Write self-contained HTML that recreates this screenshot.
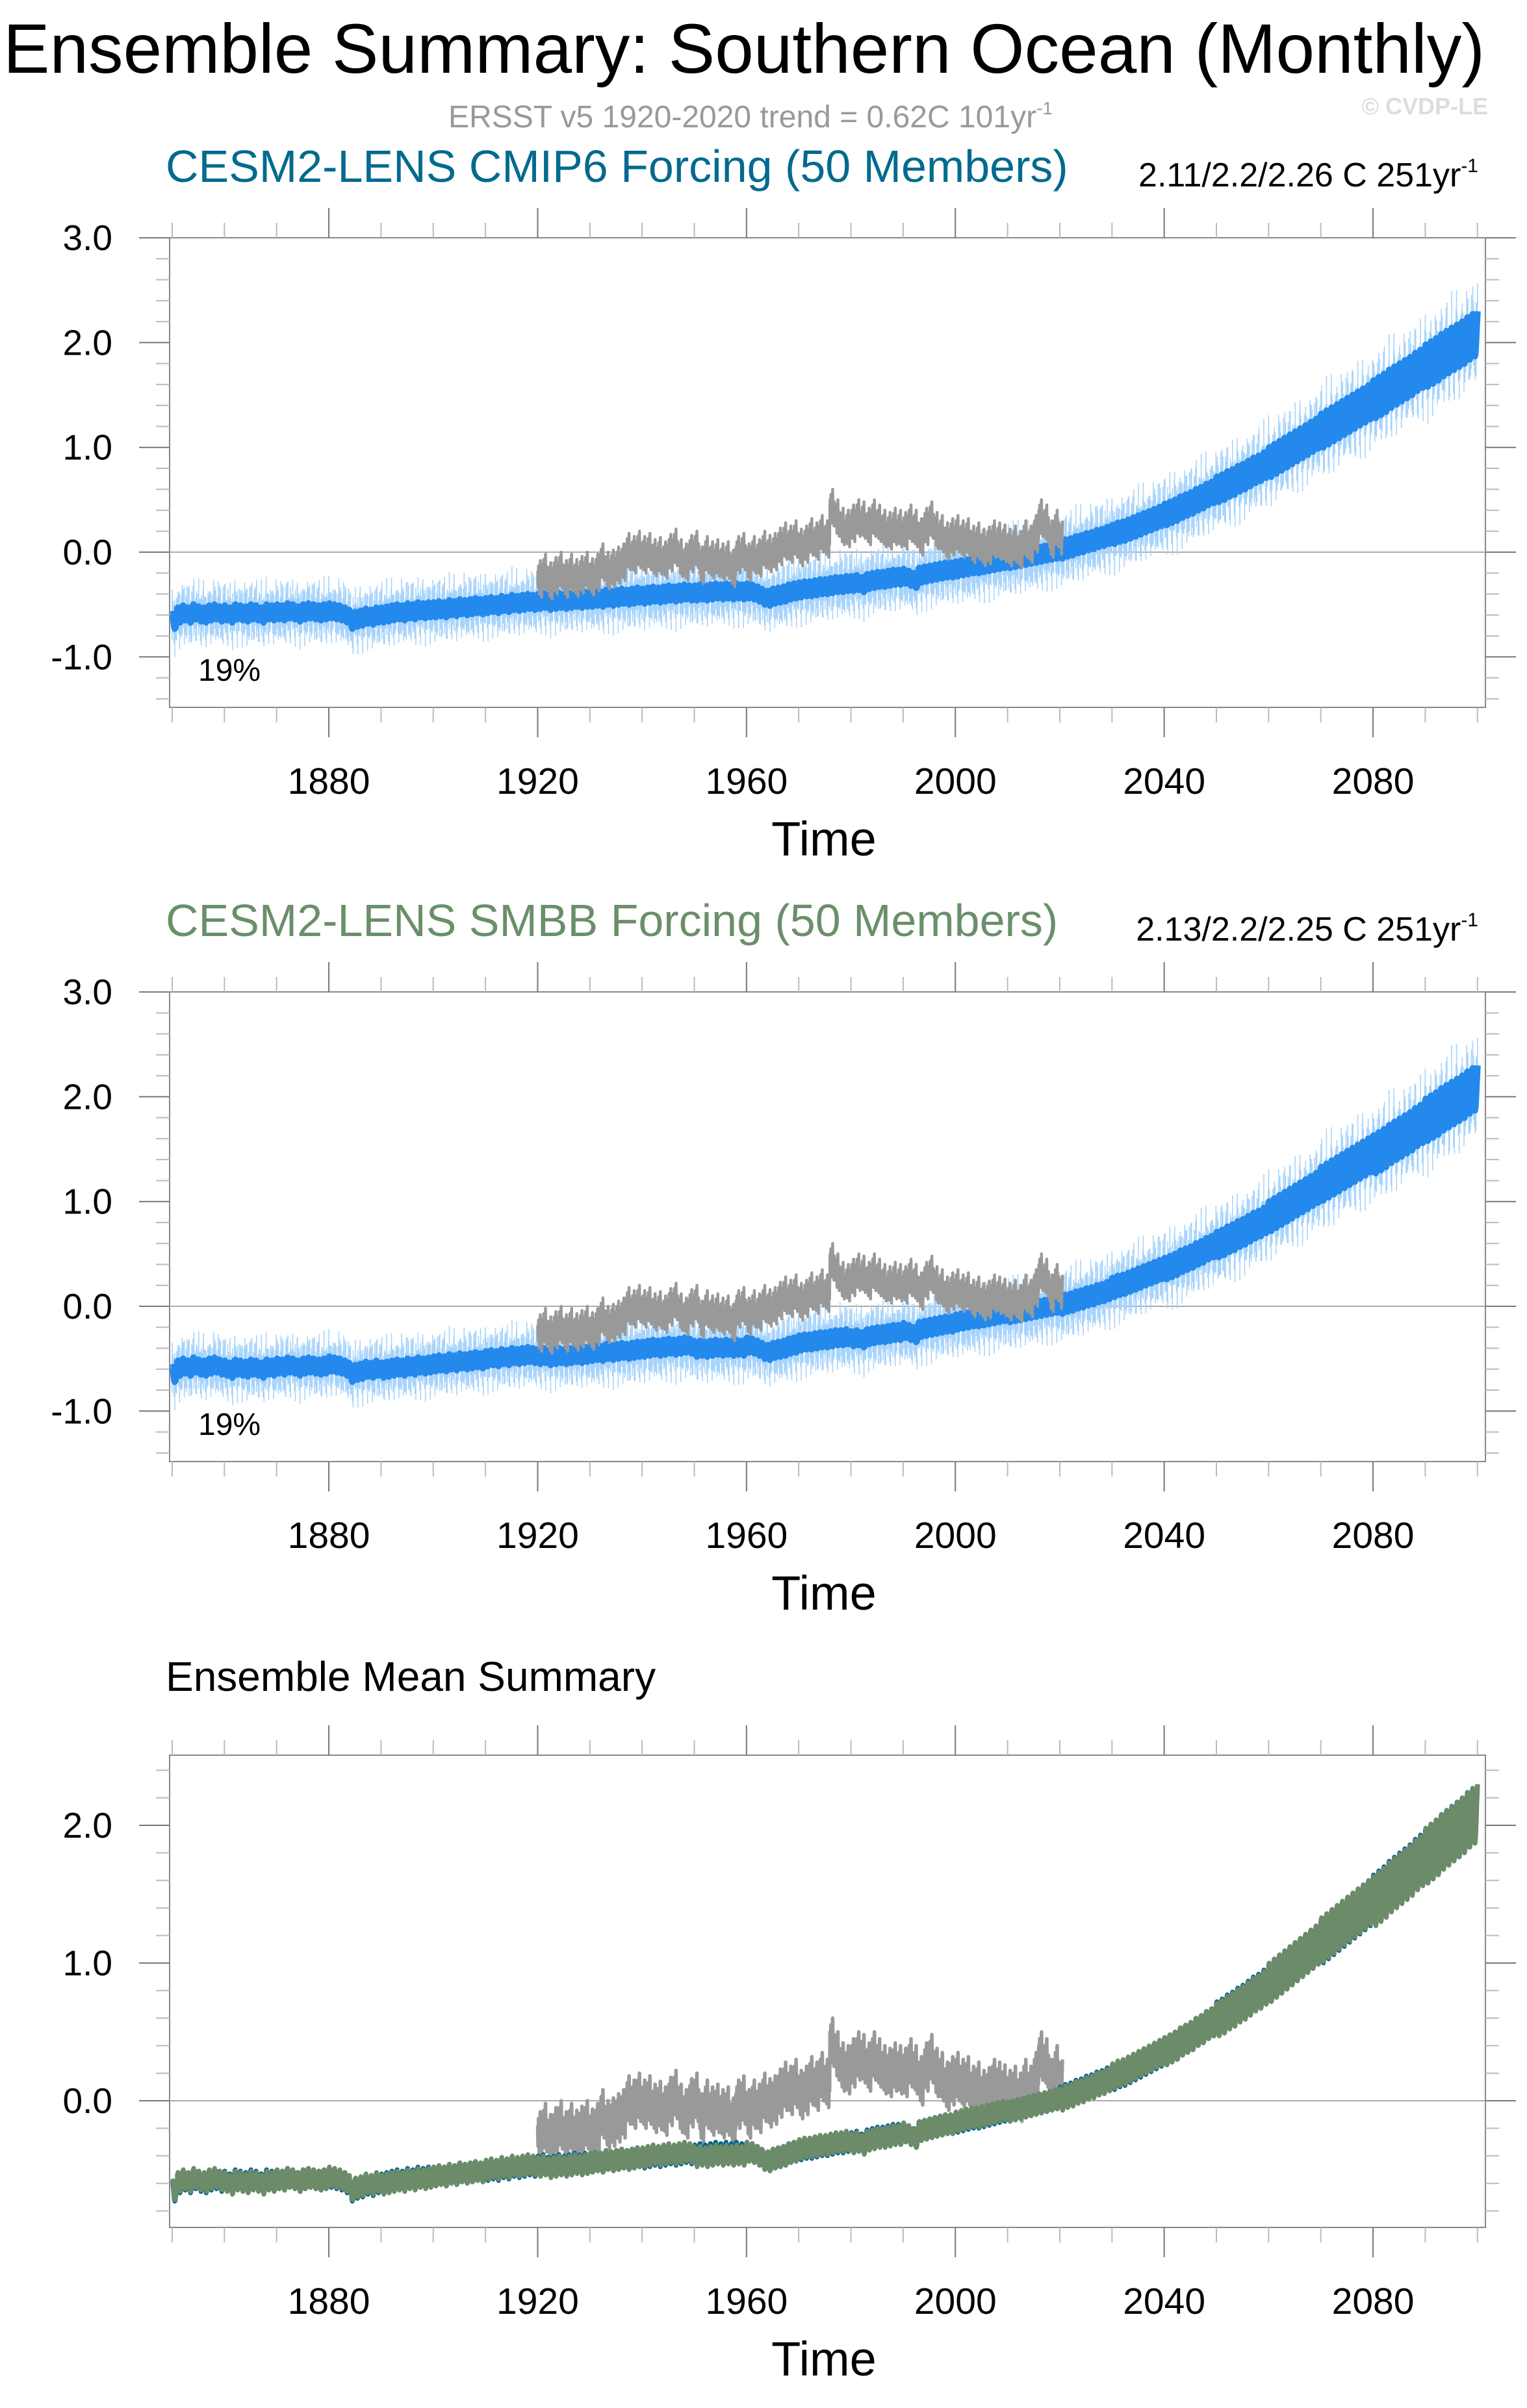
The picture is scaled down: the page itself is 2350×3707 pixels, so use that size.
<!DOCTYPE html>
<html><head><meta charset="utf-8">
<style>
html,body{margin:0;padding:0;background:#fff;}
svg{display:block;font-family:"Liberation Sans",sans-serif;}
</style></head>
<body>
<svg id="chart" width="2350" height="3707" viewBox="0 0 2350 3707" xmlns="http://www.w3.org/2000/svg">
<text x="1145" y="112" font-size="108" text-anchor="middle" fill="#000" textLength="2280" lengthAdjust="spacingAndGlyphs">Ensemble Summary: Southern Ocean (Monthly)</text>
<text x="1155" y="196" font-size="48" text-anchor="middle" fill="#999">ERSST v5 1920-2020 trend = 0.62C 101yr<tspan dy="-20" font-size="28">-1</tspan></text>
<text x="2290" y="176" font-size="36" font-weight="bold" text-anchor="end" fill="#ddd">© CVDP-LE</text>
<text x="255" y="280" font-size="70" fill="#036a8f">CESM2-LENS CMIP6 Forcing (50 Members)</text>
<text x="2275" y="287" font-size="52" text-anchor="end" fill="#000">2.11/2.2/2.26 C 251yr<tspan dy="-22" font-size="30">-1</tspan></text>
<text x="255" y="1441" font-size="70" fill="#6a8f6a">CESM2-LENS SMBB Forcing (50 Members)</text>
<text x="2275" y="1448" font-size="52" text-anchor="end" fill="#000">2.13/2.2/2.25 C 251yr<tspan dy="-22" font-size="30">-1</tspan></text>
<text x="255" y="2603" font-size="64" fill="#000">Ensemble Mean Summary</text>
</svg>
<script>
// ---- data ----
const startYear = 1850;
const modelMean = [
-0.66,-0.6,-0.58,-0.6,-0.57,-0.59,-0.6,-0.58,-0.57,-0.59,
-0.58,-0.6,-0.57,-0.58,-0.59,-0.57,-0.58,-0.6,-0.57,-0.58,
-0.57,-0.58,-0.56,-0.57,-0.59,-0.57,-0.56,-0.57,-0.58,-0.57,
-0.56,-0.57,-0.58,-0.6,-0.66,-0.64,-0.63,-0.61,-0.62,-0.6,
-0.6,-0.59,-0.58,-0.57,-0.58,-0.56,-0.57,-0.55,-0.56,-0.55,
-0.55,-0.54,-0.55,-0.53,-0.54,-0.52,-0.53,-0.52,-0.51,-0.52,
-0.51,-0.5,-0.51,-0.49,-0.5,-0.48,-0.49,-0.48,-0.47,-0.48,
-0.47,-0.46,-0.48,-0.47,-0.46,-0.47,-0.46,-0.45,-0.46,-0.45,
-0.45,-0.44,-0.45,-0.43,-0.44,-0.43,-0.42,-0.43,-0.42,-0.41,
-0.42,-0.41,-0.4,-0.41,-0.4,-0.39,-0.4,-0.39,-0.38,-0.39,
-0.39,-0.38,-0.39,-0.38,-0.37,-0.38,-0.37,-0.38,-0.37,-0.38,
-0.37,-0.38,-0.4,-0.43,-0.44,-0.42,-0.41,-0.4,-0.38,-0.37,
-0.36,-0.35,-0.35,-0.34,-0.33,-0.33,-0.32,-0.31,-0.31,-0.3,
-0.3,-0.29,-0.31,-0.28,-0.27,-0.26,-0.26,-0.25,-0.24,-0.24,
-0.23,-0.25,-0.27,-0.22,-0.21,-0.2,-0.19,-0.18,-0.17,-0.17,
-0.16,-0.15,-0.14,-0.13,-0.13,-0.12,-0.11,-0.1,-0.09,-0.08,
-0.08,-0.07,-0.06,-0.05,-0.04,-0.03,-0.02,-0.01,0.0,0.01,
0.02,0.04,0.05,0.07,0.08,0.1,0.11,0.13,0.14,0.16,
0.17,0.19,0.2,0.22,0.24,0.26,0.28,0.3,0.32,0.34,
0.36,0.38,0.4,0.43,0.45,0.47,0.5,0.52,0.55,0.57,
0.6,0.62,0.65,0.67,0.7,0.72,0.75,0.78,0.8,0.83,
0.86,0.89,0.92,0.95,0.98,1.01,1.04,1.07,1.1,1.13,
1.16,1.19,1.22,1.25,1.28,1.31,1.34,1.37,1.4,1.43,
1.46,1.49,1.52,1.56,1.59,1.62,1.65,1.68,1.72,1.75,
1.78,1.81,1.84,1.88,1.91,1.94,1.97,2.0,2.04,2.07,
2.1];
const smbbDiff = [0.01,-0.01,0,0.01,-0.01,0.0,0.01,-0.01,0,0.01,-0.02,0,0.01,-0.01,0,0.01,0,-0.01,0.01,0,-0.01,0,0.01,-0.01,0,0.0];
const seasonalAmp = [0.07,0.07,0.07,0.07,0.07,0.07,0.07,0.07,0.07,0.07,0.07,0.07,0.07,0.07,0.07,0.07,0.07,0.08,0.09,0.1,0.12,0.14,0.16,0.18,0.2,0.22];
const seasonShape = [0.9,1,0.6,0.1,-0.4,-0.8,-1,-0.9,-0.6,-0.2,0.3,0.7];
const memberSpread = [0.17,0.17,0.17,0.17,0.17,0.17,0.17,0.17,0.18,0.18,0.18,0.18,0.18,0.18,0.18,0.19,0.19,0.19,0.19,0.2,0.2,0.2,0.21,0.21,0.22,0.22];
const spikeShape = [1.4,0.5,0.9,0.3,1.1,0.4,1.6,0.6,0.8,0.3,1.2,0.45];
const obsStart = 1920;
const obsAnnual = [
-0.28,-0.22,-0.3,-0.25,-0.2,-0.28,-0.22,-0.27,-0.24,-0.2,
-0.26,-0.22,-0.12,-0.2,-0.18,-0.15,-0.12,-0.02,-0.05,0.0,
-0.05,-0.02,-0.08,-0.06,-0.1,-0.03,0.02,-0.08,-0.12,-0.04,
0.0,-0.15,-0.05,-0.1,-0.08,-0.12,-0.1,-0.18,-0.05,-0.02,
-0.12,-0.05,-0.08,0.0,-0.04,-0.02,0.03,0.08,0.05,0.1,
0.02,0.05,0.12,0.08,0.15,0.1,0.4,0.3,0.22,0.2,
0.25,0.3,0.28,0.22,0.3,0.25,0.2,0.18,0.22,0.2,
0.18,0.25,0.2,0.12,0.22,0.28,0.18,0.15,0.08,0.12,
0.15,0.1,0.12,0.05,0.08,0.02,0.04,0.1,0.08,0.06,
0.02,0.05,0.0,0.1,0.05,0.15,0.3,0.25,0.1,0.2,
0.1];
const obsMonthly = [0.1,-0.05,0.15,0.0,-0.12,0.05,0.2,-0.08,0.02,-0.15,0.08,-0.03];
const xTickYears = [1880,1920,1960,2000,2040,2080];
const panel12YTicks = ["-1.0","0.0","1.0","2.0","3.0"];
const panel3YTicks = ["0.0","1.0","2.0"];

// ---- helpers ----
const NS = "http://www.w3.org/2000/svg";
const svg = document.getElementById("chart");
function mk(tag, attrs, parent){
  const e = document.createElementNS(NS, tag);
  for (const k in attrs) e.setAttribute(k, attrs[k]);
  (parent||svg).appendChild(e);
  return e;
}
const X0 = 265, PXY = 8.035, BOXL = 261, BOXR = 2286;
function xs(yr){ return X0 + (yr - startYear) * PXY; }

function monthlyModel(diff){
  const pts = [];
  for (let i = 0; i < modelMean.length; i++){
    const dec = Math.floor(i/10);
    for (let m = 0; m < 12; m++){
      if (i === modelMean.length-1 && m > 0) break;
      const v = modelMean[i] + (diff ? smbbDiff[dec] : 0) + seasonalAmp[dec]*seasonShape[m];
      pts.push([startYear + i + m/12, v, dec, m, i]);
    }
  }
  return pts;
}
function obsSeries(){
  const pts = [];
  for (let i = 0; i < obsAnnual.length; i++){
    for (let m = 0; m < 12; m++){
      if (i === obsAnnual.length-1 && m > 6) break;
      pts.push([obsStart + i + m/12, obsAnnual[i] + obsMonthly[m]]);
    }
  }
  return pts;
}

function drawPanel(p){
  const ys = v => p.zeroY - v * p.unit;
  const g = mk("g", {});
  
  
  const frame = mk("rect", {x:BOXL, y:p.top, width:BOXR-BOXL, height:p.bottom-p.top, fill:"none", stroke:"#888", "stroke-width":2}, g);
  
  
  const zl = mk("line", {x1:BOXL, x2:BOXR, y1:ys(0), y2:ys(0), stroke:"#aaa", "stroke-width":2}, g);
  
  
  for (let yr = 1850; yr <= 2100; yr += 10){
    const major = (yr - 1880) % 40 === 0;
    const len = major ? 46 : 23;
    const col = major ? "#777" : "#bbb";
    const x = xs(yr);
    mk("line", {x1:x, x2:x, y1:p.top, y2:p.top-len, stroke:col, "stroke-width":2}, g);
    mk("line", {x1:x, x2:x, y1:p.bottom, y2:p.bottom+len, stroke:col, "stroke-width":2}, g);
  }
  xTickYears.forEach(yr => {
    const t = mk("text", {x:xs(yr), y:p.bottom+133, "font-size":57, "text-anchor":"middle", fill:"#000"}, g);
    t.textContent = yr;
    
    
  });
  const xt = mk("text", {x:1268, y:p.bottom+228, "font-size":74, "text-anchor":"middle", fill:"#000"}, g);
  xt.textContent = "Time";
  
  
  for (let k = Math.ceil(p.ymin*5); k <= Math.floor(p.ymax*5); k++){
    const v = k/5;
    const major = k % 5 === 0;
    const len = major ? 47 : 21;
    const col = major ? "#777" : "#bbb";
    const y = ys(v);
    mk("line", {x1:BOXL, x2:BOXL-len, y1:y, y2:y, stroke:col, "stroke-width":2}, g);
    mk("line", {x1:BOXR, x2:BOXR+len, y1:y, y2:y, stroke:col, "stroke-width":2}, g);
  }
  p.yLabels.forEach(lbl => {
    const t = mk("text", {x:173, y:ys(parseFloat(lbl))+19, "font-size":55, "text-anchor":"end", fill:"#000"}, g);
    t.textContent = lbl;
    
    
  });
  const clipId = "clip-" + p.name;
  const cp = mk("clipPath", {id:clipId}, g);
  mk("rect", {x:BOXL, y:p.top, width:BOXR-BOXL, height:p.bottom-p.top}, cp);
  const dg = mk("g", {"clip-path":"url(#"+clipId+")"}, g);

  if (p.type === "members"){
    const pts = monthlyModel(p.diff);
    let d = "";
    pts.forEach(q => {
      const s = memberSpread[q[2]] * spikeShape[(q[3] + q[4]) % 12];
      d += "M" + xs(q[0]).toFixed(1) + " " + ys(q[1]+s).toFixed(1) + "V" + ys(q[1]-s).toFixed(1);
    });
    const sp = mk("path", {d:d, stroke:"#a8d4fb", "stroke-width":1.6, fill:"none"}, dg);
    
    
    const ml = mk("polyline", {points:pts.map(q => xs(q[0]).toFixed(1)+","+ys(q[1]).toFixed(1)).join(" "), stroke:"#2389ec", "stroke-width":10, fill:"none", "stroke-linejoin":"round"}, dg);
    
    
    const ob = mk("polyline", {points:obsSeries().map(q => xs(q[0]).toFixed(1)+","+ys(q[1]).toFixed(1)).join(" "), stroke:"#999", "stroke-width":4.5, fill:"none", "stroke-linejoin":"round"}, dg);
    
    
    const pc = mk("text", {x:305, y:p.pctY, "font-size":48, fill:"#000"}, g);
    pc.textContent = "19%";
    
    
  } else {
    const ob = mk("polyline", {points:obsSeries().map(q => xs(q[0]).toFixed(1)+","+ys(q[1]).toFixed(1)).join(" "), stroke:"#999", "stroke-width":5.5, fill:"none", "stroke-linejoin":"round"}, dg);
    
    
    const c6 = mk("polyline", {points:monthlyModel(false).map(q => xs(q[0]).toFixed(1)+","+ys(q[1]).toFixed(1)).join(" "), stroke:"#00628d", "stroke-width":7, fill:"none", "stroke-linejoin":"round"}, dg);
    
    
    const sm = mk("polyline", {points:monthlyModel(true).map(q => xs(q[0]+0.04).toFixed(1)+","+ys(q[1]).toFixed(1)).join(" "), stroke:"#6b8b69", "stroke-width":7, fill:"none", "stroke-linejoin":"round"}, dg);
    
    
  }
}

drawPanel({name:"panel-cmip6", type:"members", diff:false, top:366, bottom:1089, zeroY:850, unit:161.3, ymin:-1.5, ymax:3.0, yLabels:panel12YTicks, pctY:1048});
drawPanel({name:"panel-smbb", type:"members", diff:true, top:1527, bottom:2250, zeroY:2011, unit:161.3, ymin:-1.5, ymax:3.0, yLabels:panel12YTicks, pctY:2209});
drawPanel({name:"panel-ensemble-mean", type:"mean", top:2702, bottom:3429, zeroY:3234, unit:212, ymin:-0.92, ymax:2.51, yLabels:panel3YTicks});
</script>
</body></html>
